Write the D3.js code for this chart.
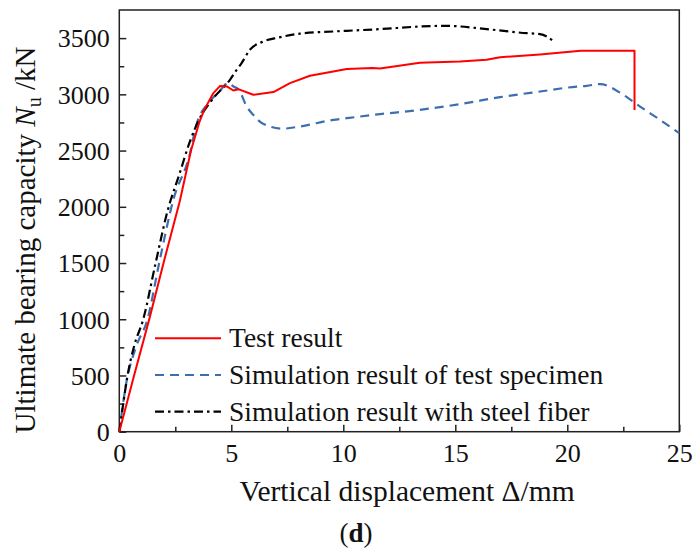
<!DOCTYPE html>
<html>
<head>
<meta charset="utf-8">
<script src="https://cdn.jsdelivr.net/npm/d3@7"></script>
<style>
  html, body { margin: 0; padding: 0; background: #fff; }
  svg { display: block; }
  svg text { font-family: "Liberation Serif", "Times New Roman", serif !important; fill: #111; }
</style>
</head>
<body>
<svg id="chart" width="694" height="550"></svg>
<script>
// Load–displacement curves (displacement in mm, load in kN)
const testDisp = [0, 0.66, 1.35, 2.0, 2.7, 3.2, 3.57, 3.79, 4.2, 4.5, 4.8, 5.09, 5.31, 5.98, 6.88, 7.62, 8.51, 9.55, 10.15, 11.3, 11.64, 13.42, 15.21, 16.4, 17.0, 18.78, 20.6, 23.0, 23.0];
const testLoad = [0, 500, 1010, 1520, 2050, 2500, 2750, 2862, 3011, 3075, 3070, 3034, 3046, 2996, 3020, 3100, 3165, 3203, 3225, 3235, 3230, 3280, 3292, 3307, 3330, 3355, 3387, 3387, 2860];

const simDisp = [0, 0.3, 0.75, 1.25, 1.8, 2.41, 3.16, 3.42, 3.97, 4.4, 4.87, 5.1, 5.34, 5.69, 5.98, 6.4, 7.32, 8.06, 9.55, 10.15, 11.64, 13.42, 15.21, 17.0, 18.78, 20.42, 20.87, 21.46, 22.5, 23.25, 24.14, 25.0];
const simLoad = [0, 420, 756, 993, 1520, 2061, 2477, 2714, 2922, 3010, 3100, 3070, 3040, 2891, 2818, 2740, 2695, 2714, 2773, 2788, 2824, 2862, 2913, 2975, 3025, 3069, 3076, 3091, 2996, 2891, 2773, 2655];

const fiberDisp = [0, 0.18, 0.35, 0.66, 1.07, 1.6, 2.15, 2.7, 3.15, 3.6, 4.2, 4.94, 5.24, 5.46, 5.83, 6.43, 7.1, 8.07, 9.55, 10.15, 11.64, 13.42, 14.6, 16.4, 18.19, 18.78, 19.45];
const fiberLoad = [0, 255, 480, 760, 1000, 1480, 1960, 2300, 2580, 2790, 2966, 3129, 3218, 3278, 3396, 3470, 3505, 3540, 3559, 3565, 3580, 3603, 3609, 3580, 3544, 3536, 3464];

const seriesNames = ["Test result", "Simulation result of test specimen", "Simulation result with steel fiber"];

const xMajor = [0, 5, 10, 15, 20, 25];
const xMinor = [2.5, 7.5, 12.5, 17.5, 22.5];
const yMajor = [0, 500, 1000, 1500, 2000, 2500, 3000, 3500];
const yMinor = [250, 750, 1250, 1750, 2250, 2750, 3250];

const svg = d3.select("#chart");
const L = 119.3, R = 679.3, T = 10, B = 431.7;
const serif = '"Liberation Serif", "Times New Roman", serif';

const x = d3.scaleLinear().domain([0, 25]).range([L, R]);
const y = d3.scaleLinear().domain([0, 3750]).range([B, T]);

// plot frame
svg.append("rect")
  .attr("x", L).attr("y", T).attr("width", R - L).attr("height", B - T)
  .attr("fill", "none").attr("stroke", "#222").attr("stroke-width", 1.5);

// bottom axis: inward ticks
const gx = svg.append("g").attr("transform", `translate(0,${B})`);
gx.call(d3.axisBottom(x).tickValues(xMajor).tickSize(-7).tickFormat(d3.format("d")));
gx.append("g").call(d3.axisBottom(x).tickValues(xMinor).tickSize(-5).tickFormat(""));
gx.selectAll(".domain").remove();
gx.attr("font-family", serif).attr("font-size", 26);
gx.selectAll("g").attr("font-family", serif);
gx.selectAll("line").attr("stroke", "#222").attr("stroke-width", 1.5);
gx.selectAll("text")
  .attr("y", 30).attr("dy", null)
  .attr("font-family", serif).attr("font-size", 26).attr("fill", "#111");

// left axis: inward ticks
const gy = svg.append("g").attr("transform", `translate(${L},0)`);
gy.call(d3.axisLeft(y).tickValues(yMajor).tickSize(-7).tickFormat(d3.format("d")));
gy.append("g").call(d3.axisLeft(y).tickValues(yMinor).tickSize(-5).tickFormat(""));
gy.selectAll(".domain").remove();
gy.attr("font-family", serif).attr("font-size", 26);
gy.selectAll("g").attr("font-family", serif);
gy.selectAll("line").attr("stroke", "#222").attr("stroke-width", 1.5);
gy.selectAll("text")
  .attr("x", -9.5).attr("dy", "0.34em")
  .attr("font-family", serif).attr("font-size", 26).attr("fill", "#111");

// curves
const line = (xs, ys, curve) => d3.line()
  .x((d, i) => x(xs[i])).y((d, i) => y(ys[i])).curve(curve)(xs);

svg.append("path")
  .attr("d", line(simDisp, simLoad, d3.curveMonotoneX))
  .attr("fill", "none").attr("stroke", "#3d6fae").attr("stroke-width", 2.2)
  .attr("stroke-dasharray", "9,6");

svg.append("path")
  .attr("d", line(fiberDisp, fiberLoad, d3.curveMonotoneX))
  .attr("fill", "none").attr("stroke", "#000").attr("stroke-width", 2.2)
  .attr("stroke-dasharray", "9,4,2.5,4");

svg.append("path")
  .attr("d", line(testDisp, testLoad, d3.curveLinear))
  .attr("fill", "none").attr("stroke", "#ff0000").attr("stroke-width", 2)
  .attr("stroke-linejoin", "round");

// legend
const legendStyles = [
  { stroke: "#ff0000", dash: null, w: 2 },
  { stroke: "#3d6fae", dash: "9,6", w: 2.2 },
  { stroke: "#000", dash: "9,4,2.5,4", w: 2.2 }
];
const legendRows = [338.3, 375, 411.7];
seriesNames.forEach((name, i) => {
  const st = legendStyles[i];
  svg.append("line")
    .attr("x1", 155).attr("x2", 221)
    .attr("y1", legendRows[i]).attr("y2", legendRows[i])
    .attr("stroke", st.stroke).attr("stroke-width", st.w)
    .attr("stroke-dasharray", st.dash);
  svg.append("text")
    .attr("x", 229).attr("y", legendRows[i] + 8.8)
    .style("font-size", "27.5px")
    .text(name);
});

// axis titles
svg.append("text")
  .attr("x", 407).attr("y", 500.5)
  .attr("text-anchor", "middle")
  .style("font-size", "29.5px")
  .text("Vertical displacement Δ/mm");

const yTitle = svg.append("text")
  .attr("transform", "translate(35,240) rotate(-90)")
  .attr("text-anchor", "middle")
  .style("font-size", "29px");
yTitle.append("tspan").text("Ultimate bearing capacity ");
yTitle.append("tspan").style("font-style", "italic").text("N");
yTitle.append("tspan").attr("dy", 6).style("font-size", "20px").text("u");
yTitle.append("tspan").attr("dy", -6).text(" /kN");

// panel label
const panel = svg.append("text")
  .attr("x", 356).attr("y", 541.5)
  .attr("text-anchor", "middle")
  .style("font-size", "27px");
panel.append("tspan").text("(");
panel.append("tspan").style("font-weight", "bold").text("d");
panel.append("tspan").text(")");
</script>
</body>
</html>
